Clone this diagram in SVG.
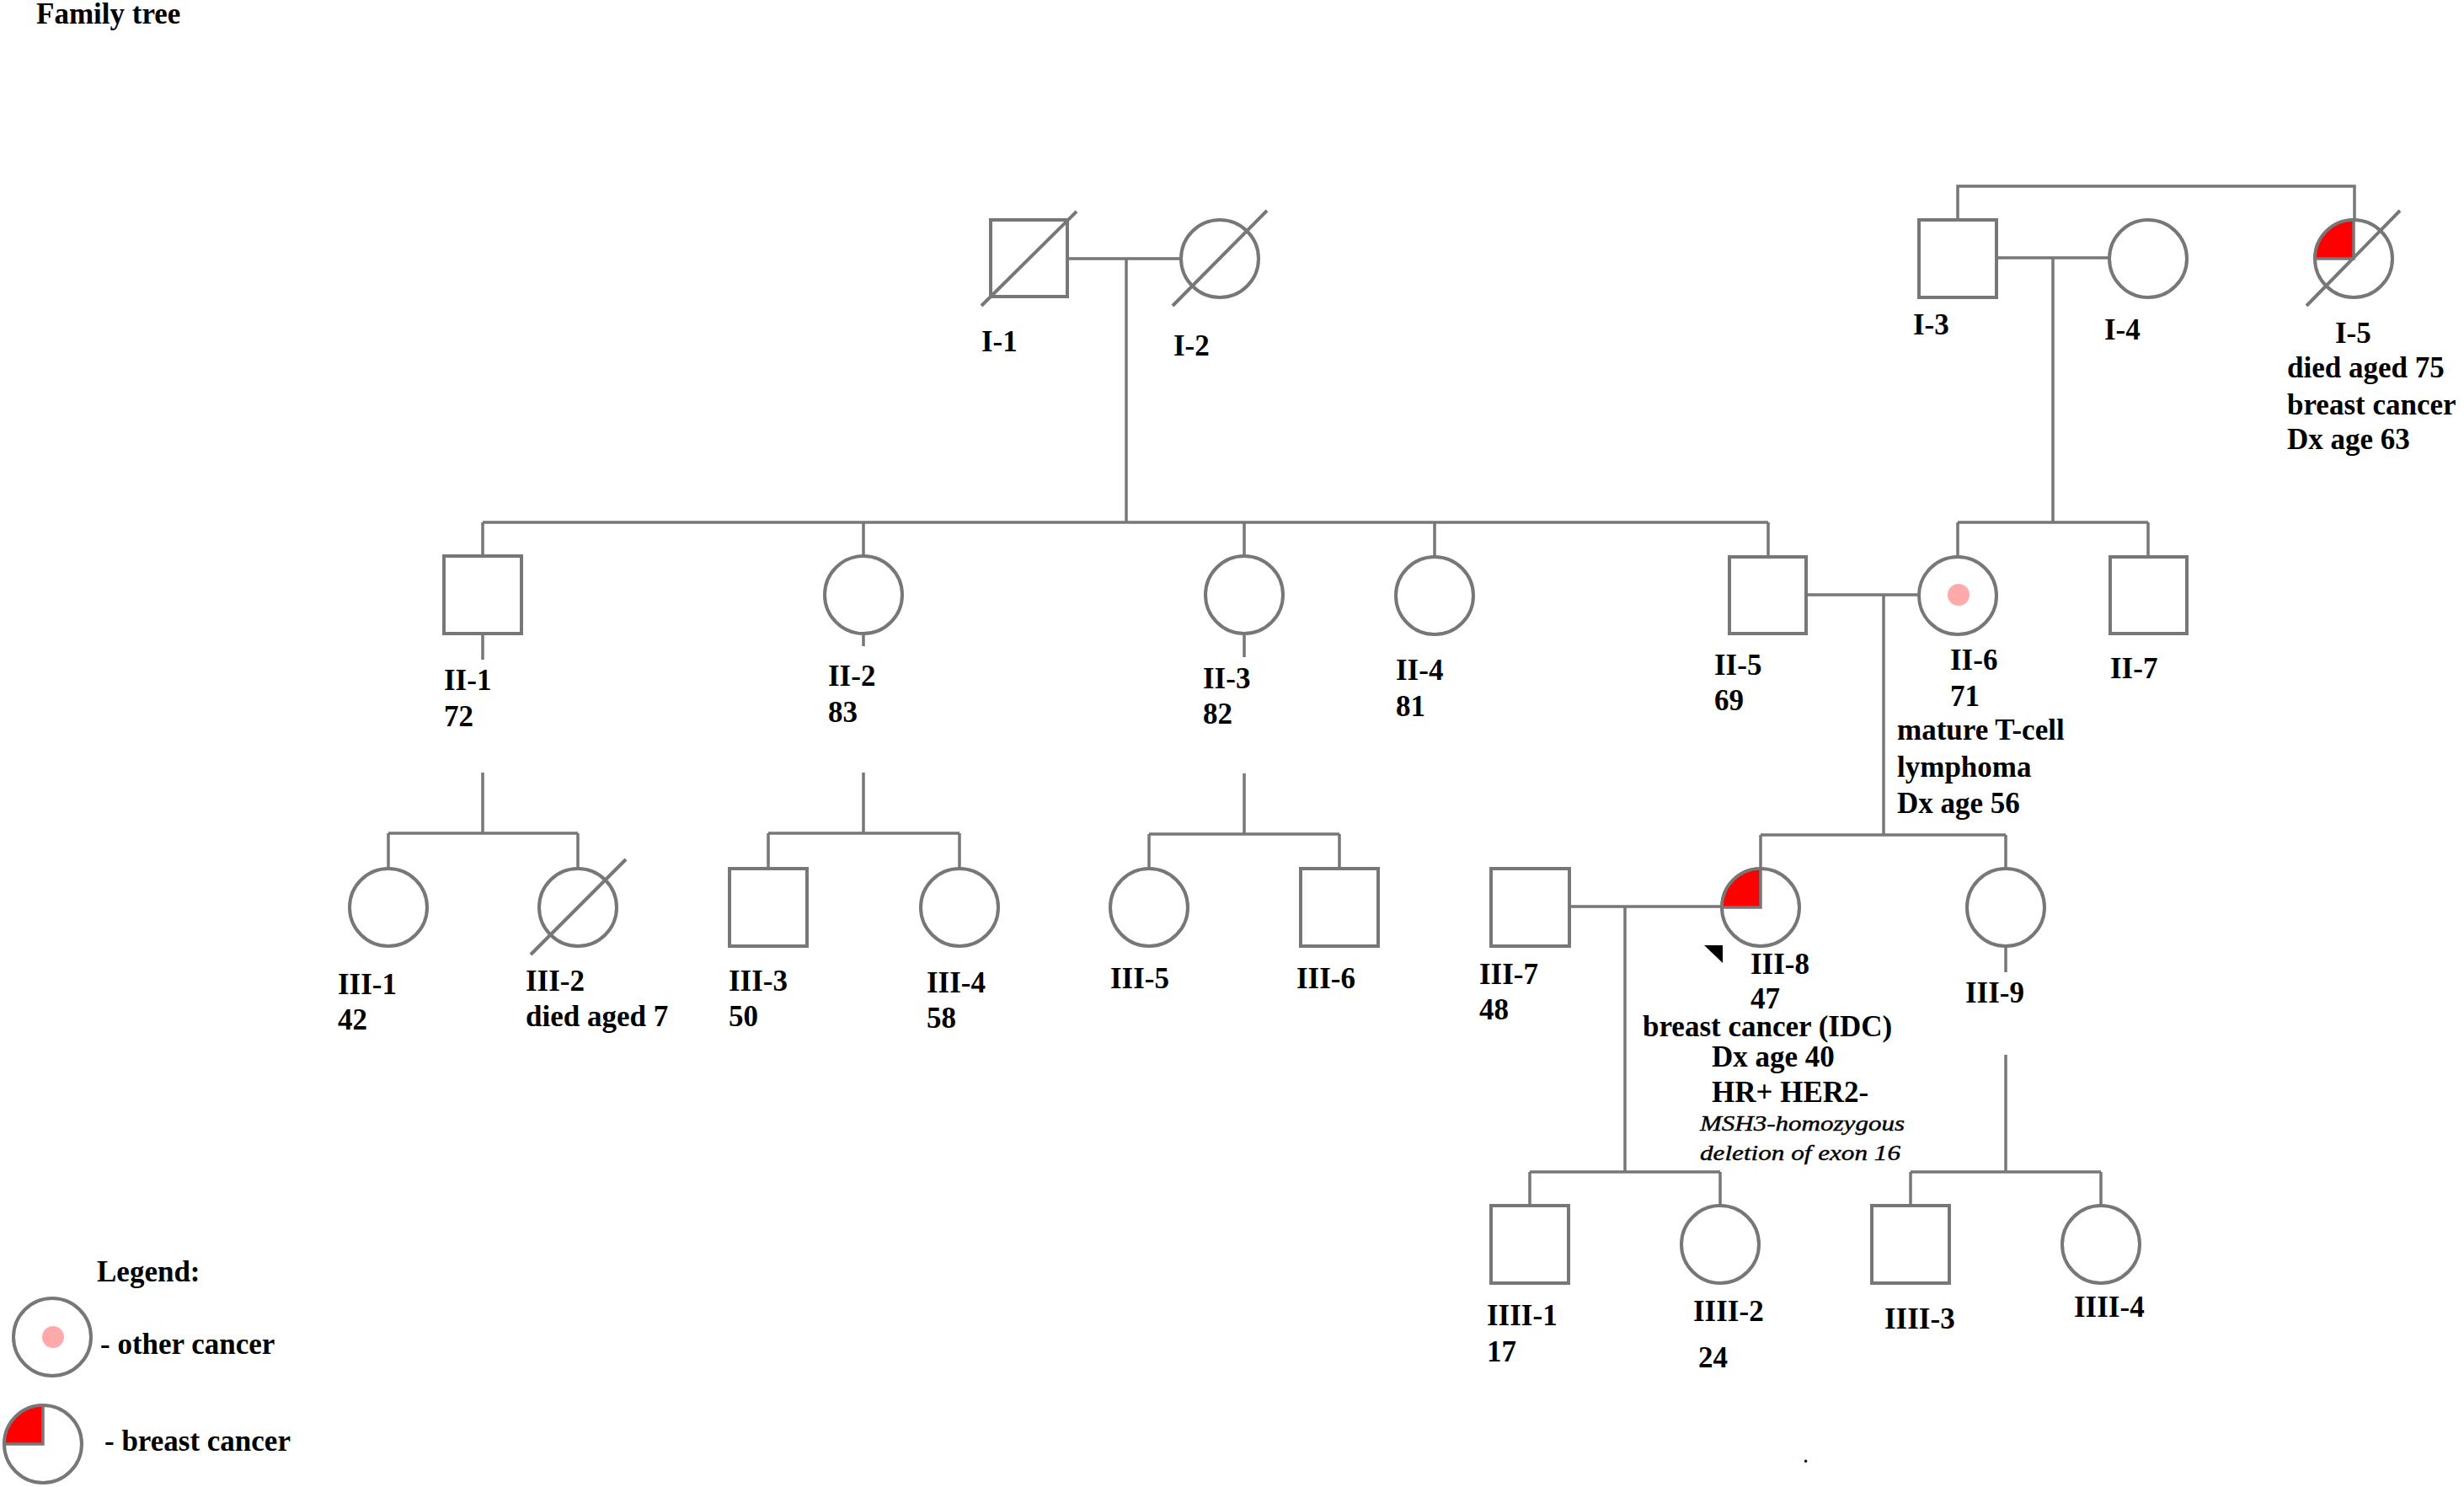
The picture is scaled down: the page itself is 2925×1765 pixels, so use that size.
<svg xmlns="http://www.w3.org/2000/svg" width="2925" height="1765" viewBox="0 0 2925 1765">
<style>
.ln{stroke:#777;stroke-width:3.5;fill:none}
.sh{stroke:#777;stroke-width:4;fill:#fff}
.dg{stroke:#777;stroke-width:4;fill:none}
.bc{fill:#ff0000;stroke:#777;stroke-width:3.5}
.oc{fill:#ffaaaa;stroke:none}
.t{font-family:"Liberation Serif","Times New Roman",serif;font-weight:bold;font-size:35px;fill:#000}
.it{font-family:"Liberation Serif","Times New Roman",serif;font-style:italic;font-size:25px;fill:#000;stroke:#000;stroke-width:0.4}
</style>
<rect width="2925" height="1765" fill="#fff"/>
<text class="t" x="43" y="28">Family tree</text>

<g id="connectors">
<path class="ln" d="M1267,307 H1402 M1337,307 V620"/>
<path class="ln" d="M573,620 H2099 M573,620 V660 M1025,620 V660 M1477,620 V660 M1703,620 V661 M2099,620 V661"/>
<path class="ln" d="M2324,261 V221 H2795 V261"/>
<path class="ln" d="M2370,306 H2504 M2437,306 V620 M2324,620 H2550 M2324,620 V661 M2550,620 V661"/>
<path class="ln" d="M2144,706 H2278 M2236,706 V991 M2090,991 H2381 M2090,991 V1031 M2381,991 V1031"/>
<path class="ln" d="M573,752 V783 M573,917 V989 M461,989 H686 M461,989 V1031 M686,989 V1031"/>
<path class="ln" d="M1025,752 V767 M1025,917 V989 M912,989 H1139 M912,989 V1031 M1139,989 V1031"/>
<path class="ln" d="M1477,752 V780 M1477,918 V990 M1364,990 H1590 M1364,990 V1031 M1590,990 V1031"/>
<path class="ln" d="M1863,1076 H2044 M1929,1076 V1391 M1816,1391 H2042 M1816,1391 V1431 M2042,1391 V1431"/>
<path class="ln" d="M2381,1123 V1154 M2381,1252 V1391 M2268,1391 H2494 M2268,1391 V1431 M2494,1391 V1431"/>
</g>

<g id="I-1">
<rect class="sh" x="1176" y="261" width="91" height="91"/>
<line class="dg" x1="1165" y1="363" x2="1278" y2="251"/>
<text class="t" x="1165" y="417">I-1</text>
</g>
<g id="I-2">
<circle class="sh" cx="1448" cy="307" r="46"/>
<line class="dg" x1="1392" y1="363" x2="1504" y2="250"/>
<text class="t" x="1393" y="422">I-2</text>
</g>
<g id="I-3">
<rect class="sh" x="2278" y="261" width="92" height="92"/>
<text class="t" x="2271" y="397">I-3</text>
</g>
<g id="I-4">
<circle class="sh" cx="2550" cy="307" r="46"/>
<text class="t" x="2498" y="403">I-4</text>
</g>
<g id="I-5">
<circle class="sh" cx="2794" cy="307" r="46"/>
<path class="bc" d="M2794,307 L2748,307 A46,46 0 0 1 2794,261 Z"/>
<line class="dg" x1="2738" y1="363" x2="2849" y2="250"/>
<text class="t" x="2772" y="407">I-5</text>
<text class="t" x="2715" y="448">died aged 75</text>
<text class="t" x="2715" y="492">breast cancer</text>
<text class="t" x="2715" y="533">Dx age 63</text>
</g>

<g id="II-1">
<rect class="sh" x="527" y="660" width="92" height="92"/>
<text class="t" x="527" y="819">II-1</text>
<text class="t" x="527" y="862">72</text>
</g>
<g id="II-2">
<circle class="sh" cx="1025" cy="706" r="46"/>
<text class="t" x="983" y="814">II-2</text>
<text class="t" x="983" y="857">83</text>
</g>
<g id="II-3">
<circle class="sh" cx="1477" cy="706" r="46"/>
<text class="t" x="1428" y="817">II-3</text>
<text class="t" x="1428" y="859">82</text>
</g>
<g id="II-4">
<circle class="sh" cx="1703" cy="707" r="46"/>
<text class="t" x="1657" y="807">II-4</text>
<text class="t" x="1657" y="850">81</text>
</g>
<g id="II-5">
<rect class="sh" x="2053" y="661" width="91" height="91"/>
<text class="t" x="2035" y="801">II-5</text>
<text class="t" x="2035" y="843">69</text>
</g>
<g id="II-6">
<circle class="sh" cx="2324" cy="707" r="46"/>
<circle class="oc" cx="2325" cy="706" r="13"/>
<text class="t" x="2315" y="795">II-6</text>
<text class="t" x="2315" y="838">71</text>
<text class="t" x="2252" y="878">mature T-cell</text>
<text class="t" x="2252" y="922">lymphoma</text>
<text class="t" x="2252" y="965">Dx age 56</text>
</g>
<g id="II-7">
<rect class="sh" x="2505" y="661" width="91" height="91"/>
<text class="t" x="2505" y="805">II-7</text>
</g>

<g id="III-1">
<circle class="sh" cx="461" cy="1077" r="46"/>
<text class="t" x="401" y="1180">III-1</text>
<text class="t" x="401" y="1222">42</text>
</g>
<g id="III-2">
<circle class="sh" cx="686" cy="1077" r="46"/>
<line class="dg" x1="630" y1="1133" x2="743" y2="1020"/>
<text class="t" x="624" y="1176">III-2</text>
<text class="t" x="624" y="1218">died aged 7</text>
</g>
<g id="III-3">
<rect class="sh" x="866" y="1031" width="92" height="92"/>
<text class="t" x="865" y="1176">III-3</text>
<text class="t" x="865" y="1218">50</text>
</g>
<g id="III-4">
<circle class="sh" cx="1139" cy="1077" r="46"/>
<text class="t" x="1100" y="1178">III-4</text>
<text class="t" x="1100" y="1220">58</text>
</g>
<g id="III-5">
<circle class="sh" cx="1364" cy="1077" r="46"/>
<text class="t" x="1318" y="1173">III-5</text>
</g>
<g id="III-6">
<rect class="sh" x="1544" y="1031" width="92" height="92"/>
<text class="t" x="1539" y="1173">III-6</text>
</g>
<g id="III-7">
<rect class="sh" x="1770" y="1031" width="93" height="92"/>
<text class="t" x="1756" y="1168">III-7</text>
<text class="t" x="1756" y="1210">48</text>
</g>
<g id="III-8">
<circle class="sh" cx="2090" cy="1077" r="46"/>
<path class="bc" d="M2090,1077 L2044,1077 A46,46 0 0 1 2090,1031 Z"/>
<polygon points="2023,1122 2045,1122 2045,1143" fill="#000"/>
<text class="t" x="2078" y="1156">III-8</text>
<text class="t" x="2078" y="1197">47</text>
<text class="t" x="1950" y="1230">breast cancer (IDC)</text>
<text class="t" x="2032" y="1266">Dx age 40</text>
<text class="t" x="2032" y="1308">HR+ HER2-</text>
<text class="it" x="2018" y="1342" textLength="243" lengthAdjust="spacingAndGlyphs">MSH3-homozygous</text>
<text class="it" x="2018" y="1377" textLength="238" lengthAdjust="spacingAndGlyphs">deletion of exon 16</text>
</g>
<g id="III-9">
<circle class="sh" cx="2381" cy="1077" r="46"/>
<text class="t" x="2333" y="1190">III-9</text>
</g>

<g id="IIII-1">
<rect class="sh" x="1770" y="1431" width="92" height="92"/>
<text class="t" x="1765" y="1573">IIII-1</text>
<text class="t" x="1765" y="1616">17</text>
</g>
<g id="IIII-2">
<circle class="sh" cx="2042" cy="1477" r="46"/>
<text class="t" x="2010" y="1568">IIII-2</text>
<text class="t" x="2016" y="1623">24</text>
</g>
<g id="IIII-3">
<rect class="sh" x="2222" y="1431" width="92" height="92"/>
<text class="t" x="2237" y="1577">IIII-3</text>
</g>
<g id="IIII-4">
<circle class="sh" cx="2494" cy="1477" r="46"/>
<text class="t" x="2462" y="1563">IIII-4</text>
</g>

<text class="t" x="2141" y="1736" style="font-size:20px">.</text>

<g id="legend">
<text class="t" x="115" y="1521">Legend:</text>
<circle class="sh" cx="62" cy="1587" r="46"/>
<circle class="oc" cx="63" cy="1587" r="13"/>
<text class="t" x="119" y="1607">- other cancer</text>
<circle class="sh" cx="51" cy="1714" r="46"/>
<path class="bc" d="M51,1714 L5,1714 A46,46 0 0 1 51,1668 Z"/>
<text class="t" x="124" y="1722">- breast cancer</text>
</g>
</svg>
